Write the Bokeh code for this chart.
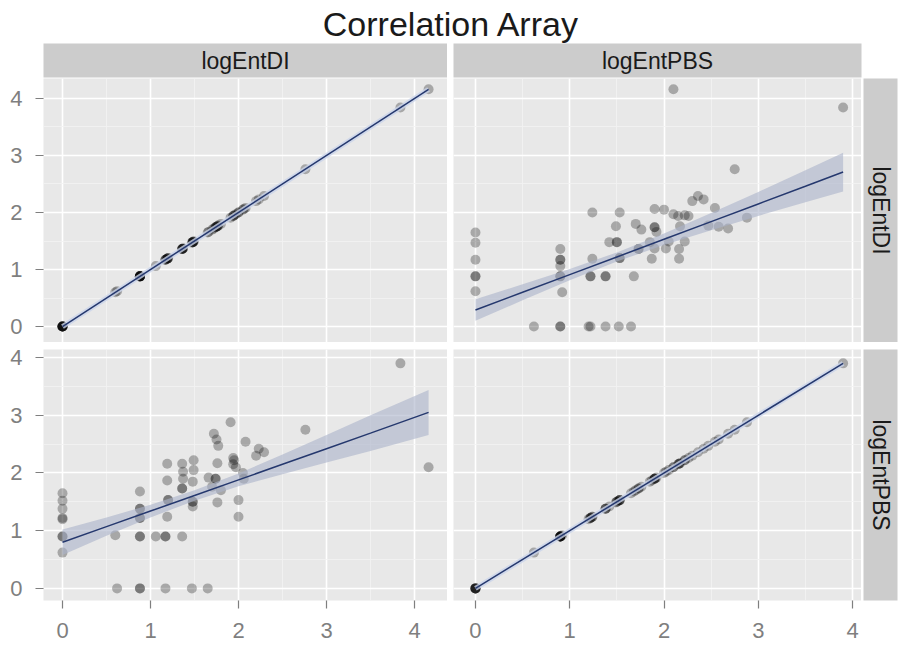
import math
from bokeh.plotting import figure
from bokeh.layouts import column, row
from bokeh.models import Range1d, FixedTicker, Grid
from bokeh.core.properties import value
from bokeh.embed import file_html
from bokeh.resources import INLINE

# ---------------- data ----------------
title_text = "Correlation Array"
facet_names = ["logEntDI", "logEntPBS"]
tick_values = [0, 1, 2, 3, 4]
tick_labels = ["0", "1", "2", "3", "4"]
minor_values = [0.5, 1.5, 2.5, 3.5]

# paired observations
logEntDI = [0, 0, 0, 0, 0, 0, 0, 0,
            0.62, 0.88, 0.88, 1.17, 1.47, 1.65,
            0.60,
            0.88, 0.88, 0.88, 0.88, 0.88, 0.88, 0.88,
            1.06, 1.17, 1.17, 1.36,
            1.19, 1.19, 1.20, 1.20, 1.19,
            1.36, 1.37, 1.37, 1.36, 1.36,
            1.49, 1.49, 1.48, 1.48, 1.48, 1.48,
            1.72, 1.75, 1.77, 1.76, 1.66, 1.74, 1.74, 1.80, 1.70, 1.76,
            1.91, 2.08, 1.95, 1.97, 2.00, 2.00, 2.05, 1.94, 2.06, 1.94,
            2.23, 2.29, 2.20, 2.76, 3.84, 4.16]
logEntPBS = [0.62, 0.90, 0.90, 1.20, 1.22, 1.38, 1.52, 1.65,
             0, 0, 0, 0, 0, 0,
             0.92,
             0.90, 0.90, 1.22, 1.22, 1.38, 1.38, 1.68,
             0.90, 0.90, 0.90, 0.90,
             2.16, 1.87, 1.53, 1.53, 1.24,
             2.16, 2.02, 1.90, 1.73, 1.73,
             2.22, 2.05, 1.85, 1.50, 1.50, 1.42,
             2.68, 2.58, 2.47, 2.17, 1.92, 1.90, 1.90, 1.70, 1.76, 1.49,
             2.88, 2.54, 2.22, 2.10, 1.53, 1.24, 2.00, 2.15, 1.90, 2.26,
             2.42, 2.36, 2.30, 2.75, 3.90, 2.10]

# smoothing lines
fit_dd_x = [0, 4.16]            # logEntDI vs logEntDI
fit_dd_y = [0, 4.16]
fit_pp_x = [0, 3.90]            # logEntPBS vs logEntPBS
fit_pp_y = [0, 3.90]
fit_tr_x = [0, 0.5, 1, 1.5, 2, 2.5, 3, 3.5, 3.9]          # DI ~ PBS
fit_tr_y = [0.29, 0.60, 0.91, 1.22, 1.53, 1.84, 2.15, 2.46, 2.71]
fit_tr_hw = [0.19, 0.14, 0.10, 0.08, 0.10, 0.15, 0.21, 0.28, 0.34]
fit_bl_x = [0, 0.5, 1, 1.5, 2, 2.5, 3, 3.5, 4.16]         # PBS ~ DI
fit_bl_y = [0.80, 1.07, 1.34, 1.61, 1.88, 2.15, 2.42, 2.69, 3.05]
fit_bl_hw = [0.22, 0.16, 0.11, 0.09, 0.11, 0.17, 0.24, 0.31, 0.39]

# ---------------- styles ----------------
FONT = "Liberation Sans"
BG = "#e8e8e8"
STRIP = "#cccccc"
AX = "#7f7f7f"
PT_ALPHA = 0.28
LINE_C = "#25386e"
BAND_C = "#aab3c9"

col_x = [(-0.216, 4.375), (-0.233, 4.095)]
row_y = [(-0.28, 4.35), (-0.21, 4.14)]


def style_axis(ax, standoff):
    ax.ticker = FixedTicker(ticks=tick_values)
    ax.major_label_overrides = {v: l for v, l in zip(tick_values, tick_labels)}
    ax.axis_line_color = None
    ax.major_tick_line_color = AX
    ax.major_tick_line_width = 1.2
    ax.major_tick_out = 8
    ax.major_tick_in = 0
    ax.minor_tick_line_color = None
    ax.major_label_text_color = AX
    ax.major_label_text_font = FONT
    ax.major_label_text_font_size = "22px"
    ax.major_label_standoff = standoff


def base_fig(w, h, xr, yr, xloc=None, yloc=None):
    p = figure(width=w, height=h, x_range=Range1d(*xr), y_range=Range1d(*yr),
               x_axis_location=xloc, y_axis_location=yloc,
               toolbar_location=None, output_backend="svg", min_border=0)
    p.border_fill_color = "white"
    p.outline_line_color = None
    for g in p.grid:
        g.visible = False
    return p


def panel(xv, yv, ci, ri, w, h, left, bottom, top, fit_x, fit_y, fit_hw=None,
          show_x=False, show_y=False):
    p = base_fig(w, h, col_x[ci], row_y[ri],
                 "below" if show_x else None, "left" if show_y else None)
    p.min_border_left = left
    p.min_border_bottom = bottom
    p.min_border_top = top
    p.background_fill_color = BG
    for dim in (0, 1):
        p.add_layout(Grid(dimension=dim,
                          ticker=FixedTicker(ticks=tick_values, minor_ticks=minor_values),
                          grid_line_color="white", grid_line_width=1.6,
                          minor_grid_line_color="#f3f3f3", minor_grid_line_width=0.8))
    if show_x:
        style_axis(p.xaxis[0], 14)
    if show_y:
        style_axis(p.yaxis[0], 13)
    p.scatter(xv, yv, size=10, fill_color="black", fill_alpha=PT_ALPHA, line_color=None)
    if fit_hw is not None:
        lo = [y - d for y, d in zip(fit_y, fit_hw)]
        hi = [y + d for y, d in zip(fit_y, fit_hw)]
        p.varea(x=fit_x, y1=lo, y2=hi, fill_color=BAND_C, fill_alpha=0.6)
    else:
        p.line(fit_x, fit_y, line_color="#c9d3ea", line_width=5, line_alpha=0.8)
    p.line(fit_x, fit_y, line_color=LINE_C, line_width=1.5)
    return p


def strip(label, w, h, left=0, right=0, top=0, bottom=0, vertical=False):
    s = base_fig(w, h, (0, 1), (0, 1))
    s.min_border_left = left
    s.min_border_right = right
    s.min_border_top = top
    s.min_border_bottom = bottom
    s.background_fill_color = STRIP
    s.text(x=[0.5], y=[0.5], text=[label], angle=-math.pi / 2 if vertical else 0,
           text_align="center", text_baseline="middle",
           text_font=value(FONT), text_font_size="23px", text_color="#1a1a1a")
    return s


# title
t = base_fig(898, 43, (0, 1), (0, 1))
t.background_fill_color = "white"
t.text(x=[0.502], y=[0.45], text=[title_text], text_align="center", text_baseline="middle",
       text_font=value(FONT), text_font_size="34px", text_color="#1a1a1a")

# top strips
s1 = strip(facet_names[0], 447, 35, left=43, bottom=1)
s2 = strip(facet_names[1], 451, 35, left=6, right=37, bottom=1)

# top row: y = logEntDI
tl = panel(logEntDI, logEntDI, 0, 0, 447, 264, 43, 0, 0, fit_dd_x, fit_dd_y, show_y=True)
tr = panel(logEntPBS, logEntDI, 1, 0, 414, 264, 6, 0, 0, fit_tr_x, fit_tr_y, fit_tr_hw)
rs1 = strip(facet_names[0], 37, 264, left=2, right=1, vertical=True)

# bottom row: y = logEntPBS
bl = panel(logEntDI, logEntPBS, 0, 1, 447, 307, 43, 49, 7, fit_bl_x, fit_bl_y, fit_bl_hw,
           show_x=True, show_y=True)
br = panel(logEntPBS, logEntPBS, 1, 1, 414, 307, 6, 49, 7, fit_pp_x, fit_pp_y, show_x=True)
rs2 = strip(facet_names[1], 37, 307, left=2, right=1, top=7, bottom=49, vertical=True)

layout = column(t, row(s1, s2), row(tl, tr, rs1), row(bl, br, rs2))

open("out.html", "w").write(file_html(layout, INLINE))
